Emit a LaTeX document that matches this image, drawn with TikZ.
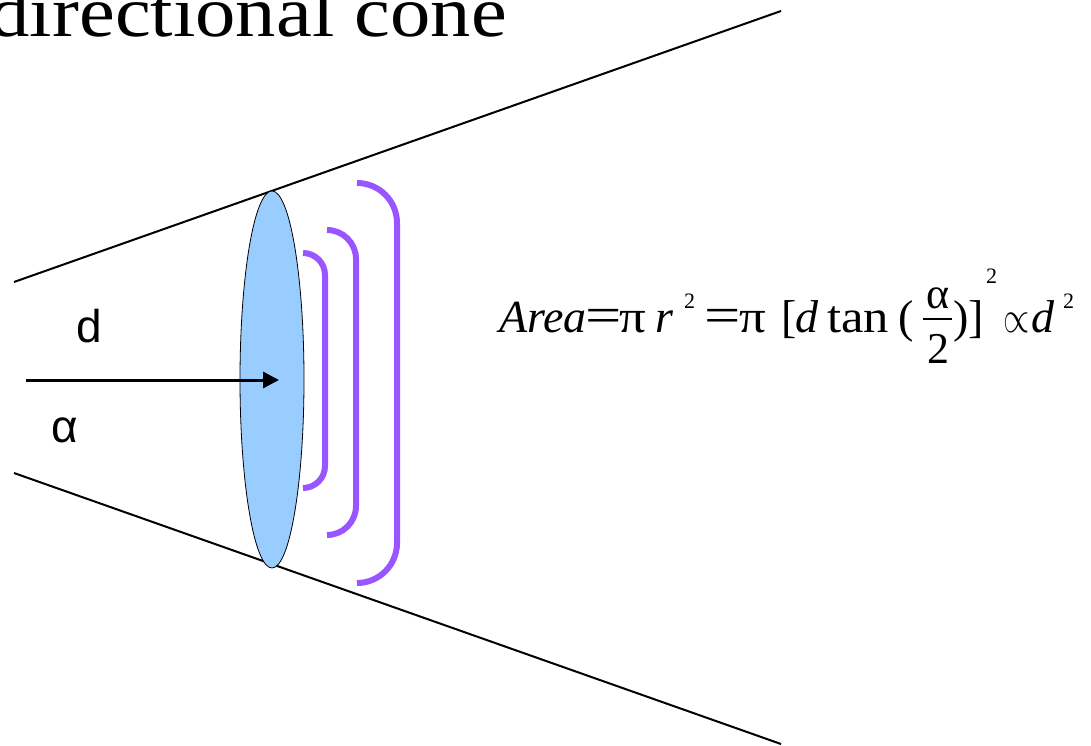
\documentclass[tikz,border=0pt]{standalone}
\usepackage{fontspec}
\usepackage{graphicx}
\setmainfont{Liberation Serif}
\newfontfamily\titlefont[FakeStretch=1.12]{Liberation Serif}
\newfontfamily\labelfont{Liberation Sans}
\usetikzlibrary{arrows.meta,shapes.geometric}
\definecolor{diskblue}{HTML}{99CCFF}
\definecolor{bracketpurple}{HTML}{9955FF}
\newcommand\fpart[2]{\makebox[0pt][l]{\hspace{#1pt}#2}}
\newcommand\supr[2]{\raisebox{#1pt}{\fontsize{22}{22}\selectfont #2}}
\tikzset{
  coneline/.style={line width=2pt, black},
  bracketline/.style={line width=6pt, bracketpurple},
  arrowline/.style={line width=3pt, -{Triangle[length=16pt,width=16pt]}},
  lbl/.style={font=\labelfont\fontsize{46}{50}\selectfont, inner sep=0pt, anchor=base},
}
\begin{document}
\begin{tikzpicture}[x=1pt,y=-1pt]
\useasboundingbox (0,0) rectangle (1091,746);
% title
\node[font=\titlefont\fontsize{72}{80}\selectfont, inner sep=0pt, anchor=base east] (title) at (507,37) {directional cone};
% cone
\coordinate (ul) at (14,282);
\coordinate (ur) at (781,11);
\coordinate (ll) at (14,473);
\coordinate (lr) at (781,744);
\draw[coneline] (ul) -- (ur);
\draw[coneline] (ll) -- (lr);
% disk
\node[draw=black, line width=0.8pt, fill=diskblue, ellipse, minimum width=64pt, minimum height=377pt, inner sep=0pt] (disk) at (272,379.5) {};
% brackets
\draw[bracketline, rounded corners=22pt] (303,253) -- (325,253) -- (325,488) -- (303,488);
\draw[bracketline, rounded corners=29pt] (327,230) -- (356,230) -- (356,535) -- (327,535);
\draw[bracketline, rounded corners=40pt] (357,183) -- (397,183) -- (397,583) -- (357,583);
% arrow
\coordinate (astart) at (26,380);
\coordinate (aend) at (279,380);
\draw[arrowline] (astart) -- (aend);
% labels
\node[lbl] (dlab) at (89,342) {d};
\node[lbl] (alab) at (65,442) {α};
% formula
\node[inner sep=0pt, anchor=base west, font=\fontsize{46}{50}\selectfont] (formula) at (499,332)
{\hbox to 580pt{%
\fpart{0}{\itshape Area}%
\fpart{86}{\scalebox{1.4}[1.1]{=}}%
\fpart{120}{\scalebox{1.15}[1]{π}}%
\fpart{156}{\itshape r}%
\fpart{185}{\supr{24}{2}}%
\fpart{205}{\scalebox{1.4}[1.1]{=}}%
\fpart{240}{\scalebox{1.15}[1]{π}}%
\fpart{282}{[}%
\fpart{296}{\itshape d}%
\fpart{328}{\scalebox{1.1}[1]{tan}}%
\fpart{399}{(}%
\fpart{424}{\rule[12pt]{29pt}{1.8pt}}%
\fpart{427}{\fontsize{44}{44}\selectfont\raisebox{24pt}{α}}%
\fpart{428}{\fontsize{44}{44}\selectfont\raisebox{-31pt}{2}}%
\fpart{454}{)}%
\fpart{469}{]}%
\fpart{487}{\supr{49}{2}}%
\fpart{504}{\scalebox{1.35}[1.8]{$\propto$}}%
\fpart{532}{\itshape d}%
\fpart{564}{\supr{24}{2}}%
\hfil}};
\end{tikzpicture}
\end{document}
